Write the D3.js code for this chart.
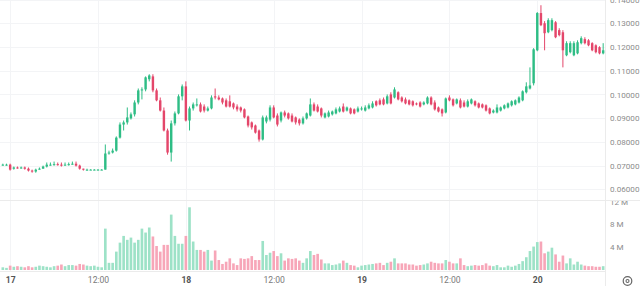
<!DOCTYPE html>
<html>
<head>
<meta charset="utf-8">
<script src="https://cdn.jsdelivr.net/npm/d3@7"></script>
<style>
  html, body { margin: 0; padding: 0; background: #fff; }
  svg { display: block; font-family: Roboto, 'Noto Sans', sans-serif; }
</style>
</head>
<body>
<div id="chart"></div>
<script>
'use strict';

// 30 minute candles, first one at 16th 23:00
const open = [
    0.0704, 0.0704, 0.0704, 0.0687, 0.0692, 0.0689, 0.0692, 0.0687, 0.0679, 0.0675,
    0.0683, 0.0687, 0.0696, 0.0704, 0.0704, 0.0706, 0.0704, 0.0702, 0.0704, 0.0706,
    0.0708, 0.0700, 0.0687, 0.0683, 0.0683, 0.0683, 0.0683, 0.0683, 0.0683, 0.0751,
    0.0755, 0.0763, 0.0818, 0.0873, 0.0882, 0.0899, 0.0916, 0.0966, 0.1017, 0.1021,
    0.1064, 0.1076, 0.1017, 0.0975, 0.0932, 0.0848, 0.0755, 0.0878, 0.0920, 0.0992,
    0.1034, 0.0890, 0.0941, 0.0954, 0.0958, 0.0949, 0.0932, 0.0941, 0.0992, 0.0987,
    0.0983, 0.0975, 0.0971, 0.0962, 0.0949, 0.0945, 0.0937, 0.0907, 0.0882, 0.0869,
    0.0848, 0.0810, 0.0886, 0.0894, 0.0945, 0.0911, 0.0890, 0.0924, 0.0920, 0.0911,
    0.0903, 0.0894, 0.0878, 0.0899, 0.0911, 0.0958, 0.0949, 0.0941, 0.0903, 0.0907,
    0.0916, 0.0920, 0.0928, 0.0949, 0.0932, 0.0941, 0.0937, 0.0928, 0.0937, 0.0932,
    0.0941, 0.0945, 0.0971, 0.0975, 0.0979, 0.0962, 0.1000, 0.0987, 0.1009, 0.0987,
    0.0979, 0.0975, 0.0971, 0.0962, 0.0966, 0.0958, 0.0962, 0.0987, 0.0966, 0.0945,
    0.0937, 0.0924, 0.0987, 0.0979, 0.0962, 0.0975, 0.0966, 0.0949, 0.0962, 0.0971,
    0.0962, 0.0958, 0.0954, 0.0941, 0.0924, 0.0924, 0.0932, 0.0941, 0.0945, 0.0954,
    0.0958, 0.0966, 0.0975, 0.1009, 0.1025, 0.1047, 0.1186, 0.1343, 0.1300, 0.1262,
    0.1271, 0.1304, 0.1271, 0.1262, 0.1165, 0.1178, 0.1165, 0.1173, 0.1216, 0.1233,
    0.1228, 0.1216, 0.1207, 0.1199, 0.1173
];

const high = [
    0.0708, 0.0708, 0.0708, 0.0696, 0.0696, 0.0696, 0.0696, 0.0692, 0.0683, 0.0687,
    0.0692, 0.0700, 0.0713, 0.0713, 0.0717, 0.0713, 0.0713, 0.0713, 0.0713, 0.0717,
    0.0717, 0.0704, 0.0687, 0.0687, 0.0685, 0.0685, 0.0685, 0.0685, 0.0789, 0.0763,
    0.0772, 0.0823, 0.0882, 0.0890, 0.0945, 0.0924, 0.0975, 0.1025, 0.1030, 0.1076,
    0.1085, 0.1085, 0.1025, 0.0987, 0.0945, 0.0856, 0.0890, 0.0928, 0.1000, 0.1042,
    0.1055, 0.0949, 0.0966, 0.0983, 0.0966, 0.0958, 0.0949, 0.0996, 0.1025, 0.0996,
    0.0987, 0.0983, 0.0996, 0.0966, 0.0958, 0.0949, 0.0941, 0.0911, 0.0886, 0.0873,
    0.0852, 0.0911, 0.0911, 0.0954, 0.0954, 0.0920, 0.0928, 0.0932, 0.0924, 0.0920,
    0.0907, 0.0899, 0.0907, 0.0924, 0.0983, 0.0966, 0.0958, 0.0945, 0.0924, 0.0932,
    0.0932, 0.0945, 0.0949, 0.0962, 0.0949, 0.0945, 0.0941, 0.0949, 0.0949, 0.0954,
    0.0962, 0.0971, 0.0975, 0.0983, 0.0987, 0.1000, 0.1009, 0.1030, 0.1013, 0.0992,
    0.0987, 0.0979, 0.0975, 0.0966, 0.0971, 0.0971, 0.0992, 0.0992, 0.0975, 0.0949,
    0.0941, 0.0987, 0.0996, 0.0983, 0.0983, 0.0983, 0.0975, 0.0979, 0.0983, 0.0975,
    0.0966, 0.0962, 0.0958, 0.0945, 0.0937, 0.0958, 0.0949, 0.0958, 0.0966, 0.0975,
    0.0979, 0.0992, 0.1017, 0.1051, 0.1114, 0.1195, 0.1347, 0.1376, 0.1309, 0.1321,
    0.1321, 0.1309, 0.1279, 0.1271, 0.1224, 0.1224, 0.1224, 0.1228, 0.1245, 0.1241,
    0.1233, 0.1220, 0.1211, 0.1203, 0.1216
];

const low = [
    0.0700, 0.0700, 0.0679, 0.0683, 0.0687, 0.0687, 0.0683, 0.0675, 0.0670, 0.0670,
    0.0683, 0.0687, 0.0692, 0.0700, 0.0700, 0.0700, 0.0696, 0.0700, 0.0700, 0.0704,
    0.0696, 0.0683, 0.0679, 0.0679, 0.0681, 0.0681, 0.0681, 0.0681, 0.0683, 0.0746,
    0.0751, 0.0759, 0.0814, 0.0848, 0.0873, 0.0894, 0.0907, 0.0958, 0.0979, 0.1013,
    0.1055, 0.1009, 0.0971, 0.0928, 0.0844, 0.0746, 0.0717, 0.0869, 0.0916, 0.0975,
    0.0886, 0.0848, 0.0932, 0.0949, 0.0924, 0.0924, 0.0928, 0.0937, 0.0979, 0.0975,
    0.0958, 0.0945, 0.0945, 0.0937, 0.0928, 0.0924, 0.0899, 0.0861, 0.0852, 0.0835,
    0.0801, 0.0806, 0.0878, 0.0886, 0.0899, 0.0865, 0.0882, 0.0903, 0.0894, 0.0882,
    0.0873, 0.0869, 0.0873, 0.0894, 0.0907, 0.0928, 0.0924, 0.0903, 0.0899, 0.0903,
    0.0911, 0.0916, 0.0924, 0.0924, 0.0928, 0.0916, 0.0916, 0.0924, 0.0932, 0.0928,
    0.0937, 0.0941, 0.0949, 0.0954, 0.0954, 0.0958, 0.0958, 0.0983, 0.0975, 0.0966,
    0.0958, 0.0954, 0.0949, 0.0954, 0.0945, 0.0954, 0.0958, 0.0954, 0.0932, 0.0924,
    0.0907, 0.0920, 0.0971, 0.0949, 0.0958, 0.0941, 0.0945, 0.0945, 0.0958, 0.0949,
    0.0941, 0.0941, 0.0928, 0.0916, 0.0920, 0.0920, 0.0928, 0.0937, 0.0941, 0.0949,
    0.0954, 0.0962, 0.0971, 0.1004, 0.1021, 0.1038, 0.1182, 0.1288, 0.1186, 0.1258,
    0.1266, 0.1237, 0.1245, 0.1114, 0.1161, 0.1173, 0.1161, 0.1169, 0.1211, 0.1211,
    0.1203, 0.1182, 0.1173, 0.1169, 0.1169
];

const close = [
    0.0704, 0.0704, 0.0683, 0.0692, 0.0689, 0.0692, 0.0687, 0.0679, 0.0675, 0.0683,
    0.0687, 0.0696, 0.0704, 0.0704, 0.0706, 0.0704, 0.0702, 0.0704, 0.0706, 0.0708,
    0.0700, 0.0687, 0.0683, 0.0683, 0.0683, 0.0683, 0.0683, 0.0683, 0.0751, 0.0755,
    0.0763, 0.0818, 0.0873, 0.0882, 0.0903, 0.0916, 0.0966, 0.1017, 0.1021, 0.1072,
    0.1080, 0.1017, 0.0975, 0.0932, 0.0848, 0.0755, 0.0878, 0.0920, 0.0992, 0.1034,
    0.0890, 0.0941, 0.0958, 0.0958, 0.0928, 0.0932, 0.0941, 0.0987, 0.0987, 0.0979,
    0.0966, 0.0949, 0.0949, 0.0945, 0.0937, 0.0932, 0.0903, 0.0869, 0.0861, 0.0839,
    0.0810, 0.0903, 0.0903, 0.0945, 0.0903, 0.0873, 0.0924, 0.0911, 0.0899, 0.0886,
    0.0882, 0.0878, 0.0899, 0.0920, 0.0958, 0.0932, 0.0928, 0.0911, 0.0920, 0.0924,
    0.0928, 0.0937, 0.0941, 0.0928, 0.0945, 0.0920, 0.0920, 0.0941, 0.0941, 0.0945,
    0.0954, 0.0962, 0.0954, 0.0958, 0.0958, 0.0992, 0.0962, 0.1021, 0.0979, 0.0971,
    0.0962, 0.0958, 0.0954, 0.0958, 0.0949, 0.0966, 0.0987, 0.0958, 0.0937, 0.0928,
    0.0920, 0.0983, 0.0975, 0.0954, 0.0979, 0.0945, 0.0949, 0.0971, 0.0979, 0.0954,
    0.0945, 0.0945, 0.0932, 0.0920, 0.0932, 0.0945, 0.0945, 0.0954, 0.0962, 0.0971,
    0.0975, 0.0987, 0.1013, 0.1034, 0.1038, 0.1190, 0.1343, 0.1292, 0.1258, 0.1313,
    0.1313, 0.1241, 0.1250, 0.1186, 0.1216, 0.1216, 0.1216, 0.1220, 0.1237, 0.1216,
    0.1207, 0.1186, 0.1178, 0.1173, 0.1186
];

// volume in millions
const volume = [
    0.3, 0.2, 0.6, 0.4, 0.5, 0.4, 0.3, 0.5, 0.3, 0.4,
    0.6, 0.5, 0.4, 0.3, 0.5, 0.6, 0.8, 0.5, 0.7, 0.7,
    0.6, 0.9, 0.8, 0.6, 0.5, 0.6, 0.4, 0.3, 7.2, 1.1,
    1.1, 3.1, 4.7, 5.9, 5.2, 5.6, 4.7, 5.2, 7.2, 6.5,
    7.4, 5.8, 4.1, 3.1, 4.3, 4.3, 9.7, 5.9, 4.5, 4.5,
    5.9, 11.0, 4.9, 3.4, 3.4, 3.1, 3.4, 1.5, 3.3, 1.6,
    0.9, 1.3, 1.9, 1.0, 0.7, 1.9, 1.8, 1.9, 2.3, 1.6,
    1.6, 5.0, 2.5, 2.9, 3.2, 2.3, 2.8, 1.5, 1.9, 1.8,
    1.9, 1.5, 1.1, 1.9, 3.2, 2.5, 2.7, 1.7, 1.0, 1.0,
    0.7, 0.8, 1.0, 1.5, 1.1, 0.7, 0.6, 0.3, 0.6, 0.7,
    0.8, 0.9, 1.0, 1.1, 0.7, 1.1, 1.3, 1.9, 1.0, 1.0,
    1.0, 0.8, 0.8, 0.6, 0.7, 0.8, 1.0, 1.3, 1.1, 1.0,
    1.0, 1.6, 1.3, 1.0, 1.0, 1.9, 0.7, 0.5, 0.6, 0.7,
    0.6, 0.7, 1.0, 0.6, 0.5, 0.7, 0.3, 0.3, 0.6, 0.4,
    0.6, 0.9, 1.4, 2.1, 3.2, 4.0, 4.8, 4.9, 2.8, 3.1,
    3.8, 2.6, 1.3, 2.4, 1.0, 1.9, 0.8, 1.3, 0.8, 0.6,
    0.5, 0.5, 0.4, 0.4, 0.5
];

const priceTicks = [0.06, 0.07, 0.08, 0.09, 0.10, 0.11, 0.12, 0.13, 0.14];
const volumeTicks = [4, 8, 12];
const tickLabels = ['17', '12:00', '18', '12:00', '19', '12:00', '20'];

const settings = {
    width: 640,
    height: 286,
    plotRight: 605,
    paneSplit: 200,
    axisY: 271
};

const colors = {
    up: '#2ebd85',
    down: '#e4466a',
    volUp: '#9de2c7',
    volDown: '#f7a6b8',
    grid: '#f3f4f6',
    line: '#ebebeb',
    text: '#8c8c8c'
};

const start = new Date(2024, 2, 16, 23, 0);
const times = d3.range(close.length).map(i => d3.timeMinute.offset(start, 30 * i));
const tickTimes = tickLabels.map((_, i) => d3.timeHour.offset(new Date(2024, 2, 17), 12 * i));

const candles = times.map((t, i) => ({
    t, o: open[i], h: high[i], l: low[i], c: close[i], v: volume[i]
}));

const svg = d3.select('#chart')
    .append('svg')
    .attr('width', settings.width)
    .attr('height', settings.height);

svg.append('rect')
    .attr('width', settings.width)
    .attr('height', settings.height)
    .attr('fill', '#fff');

const x = d3.scaleTime()
    .domain([d3.timeMinute.offset(times[0], -15), d3.timeMinute.offset(times[times.length - 1], 15)])
    .range([1, settings.plotRight]);
const step = x(times[1]) - x(times[0]);

const y = d3.scaleLinear()
    .domain([0.0555, 0.1398])
    .range([settings.paneSplit, 0]);

const yVol = d3.scaleLinear()
    .domain([0, 12])
    .range([269, 201.7]);

// grid
const grid = svg.append('g').attr('id', 'grid');
grid.selectAll('.hgrid')
    .data(priceTicks)
    .enter()
    .append('line')
    .attr('x1', 0)
    .attr('x2', settings.plotRight)
    .attr('y1', d => Math.round(y(d)) + 0.5)
    .attr('y2', d => Math.round(y(d)) + 0.5)
    .attr('stroke', colors.grid);
grid.selectAll('.vgrid')
    .data(tickTimes)
    .enter()
    .append('line')
    .attr('x1', d => Math.round(x(d)) + 0.5)
    .attr('x2', d => Math.round(x(d)) + 0.5)
    .attr('y1', 0)
    .attr('y2', settings.axisY)
    .attr('stroke', colors.grid);

// volume bars
const volW = step * 0.72;
svg.append('g')
    .attr('id', 'volume')
    .selectAll('rect')
    .data(candles)
    .enter()
    .append('rect')
    .attr('x', d => x(d.t) - volW / 2)
    .attr('width', volW)
    .attr('y', d => yVol(d.v))
    .attr('height', d => yVol(0) - yVol(d.v) + 1)
    .attr('fill', d => d.c >= d.o ? colors.volUp : colors.volDown);

// candles
const bodyW = step * 0.66;
const cg = svg.append('g').attr('id', 'candles');
const candle = cg.selectAll('g')
    .data(candles)
    .enter()
    .append('g');

candle.append('line')
    .attr('x1', d => x(d.t))
    .attr('x2', d => x(d.t))
    .attr('y1', d => y(d.h))
    .attr('y2', d => y(d.l))
    .attr('stroke-width', 1)
    .attr('stroke', d => d.c >= d.o ? colors.up : colors.down);

candle.append('rect')
    .attr('x', d => x(d.t) - bodyW / 2)
    .attr('width', bodyW)
    .attr('y', d => y(Math.max(d.o, d.c)))
    .attr('height', d => Math.max(1, Math.abs(y(d.o) - y(d.c))))
    .attr('fill', d => d.c >= d.o ? colors.up : colors.down);

// separators
svg.append('line')
    .attr('x1', 0).attr('x2', settings.width)
    .attr('y1', settings.paneSplit + 0.5).attr('y2', settings.paneSplit + 0.5)
    .attr('stroke', colors.line);
svg.append('line')
    .attr('x1', settings.plotRight + 0.5).attr('x2', settings.plotRight + 0.5)
    .attr('y1', 0).attr('y2', settings.height)
    .attr('stroke', colors.line);
svg.append('line')
    .attr('x1', 0).attr('x2', settings.plotRight)
    .attr('y1', settings.axisY + 0.5).attr('y2', settings.axisY + 0.5)
    .attr('stroke', colors.line);

// right price axis
const priceAxis = svg.append('g')
    .attr('transform', `translate(${settings.plotRight},0)`)
    .call(d3.axisRight(y).tickValues(priceTicks).tickFormat(d3.format('.5f')).tickSize(0).tickPadding(5));

// volume axis, clipped to its own pane
svg.append('clipPath')
    .attr('id', 'volClip')
    .append('rect')
    .attr('x', settings.plotRight)
    .attr('y', settings.paneSplit + 1)
    .attr('width', 40)
    .attr('height', 80);

const volAxis = svg.append('g')
    .attr('clip-path', 'url(#volClip)')
    .append('g')
    .attr('transform', `translate(${settings.plotRight},0)`)
    .call(d3.axisRight(yVol).tickValues(volumeTicks).tickFormat(d => `${d} M`).tickSize(0).tickPadding(5));

[priceAxis, volAxis].forEach(a => {
    a.select('.domain').remove();
    a.selectAll('text')
        .attr('fill', colors.text)
        .attr('font-size', '8.1px')
        .attr('font-family', 'Roboto, sans-serif');
});

// time axis
const timeAxis = svg.append('g')
    .attr('transform', `translate(0,${settings.axisY})`)
    .call(d3.axisBottom(x).tickValues(tickTimes).tickFormat((d, i) => tickLabels[i]).tickSize(0).tickPadding(6));
timeAxis.select('.domain').remove();
timeAxis.selectAll('text')
    .attr('font-size', '8.6px')
    .attr('font-family', 'Roboto, sans-serif')
    .attr('font-weight', (d, i) => tickLabels[i].includes(':') ? 400 : 700)
    .attr('fill', (d, i) => tickLabels[i].includes(':') ? '#7a7a7a' : '#555');

// settings icon, bottom right
const icon = svg.append('g').attr('transform', 'translate(627.5,281)');
icon.append('circle')
    .attr('r', 4.3)
    .attr('fill', 'none')
    .attr('stroke', '#666')
    .attr('stroke-width', 1.2);
icon.append('circle')
    .attr('r', 1.5)
    .attr('fill', 'none')
    .attr('stroke', '#666')
    .attr('stroke-width', 1.1);
</script>
</body>
</html>
